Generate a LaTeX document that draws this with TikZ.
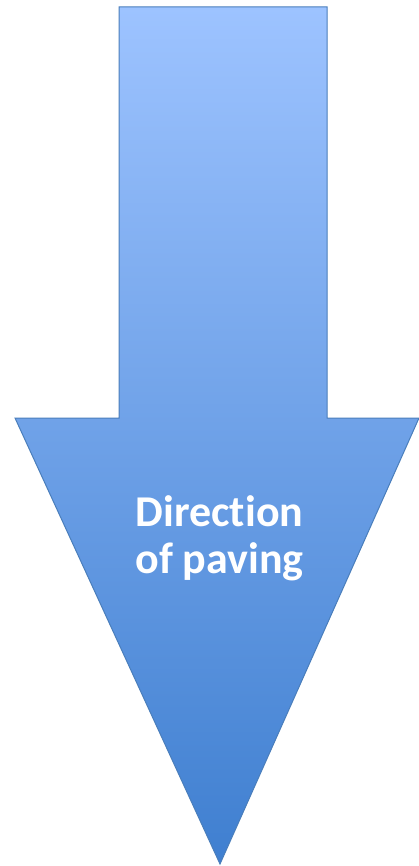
\documentclass[tikz,border=0pt]{standalone}
\usepackage{fontspec}
\setmainfont{Carlito}[Ligatures=NoCommon]
\definecolor{topblue}{HTML}{9DC3FF}
\definecolor{botblue}{HTML}{3F7FD0}
\definecolor{edgeblue}{HTML}{4A7EBB}
\begin{document}
\begin{tikzpicture}[x=1pt,y=-1pt,
  arrowbody/.style={draw=edgeblue,line width=1pt,top color=topblue,bottom color=botblue,shading angle=0},
  label/.style={text=white,font=\bfseries\fontsize{44}{47}\selectfont,align=center,inner sep=0pt}]
\useasboundingbox (0,0) rectangle (419,866);
\shade[arrowbody] (119,7) -- (327,7) -- (327,418) -- (419,418) -- (220,864) -- (15,418) -- (119,418) -- cycle;
\node[label,anchor=base] (t) at (219.5,573) {Direction\\of paving};
\end{tikzpicture}
\end{document}
